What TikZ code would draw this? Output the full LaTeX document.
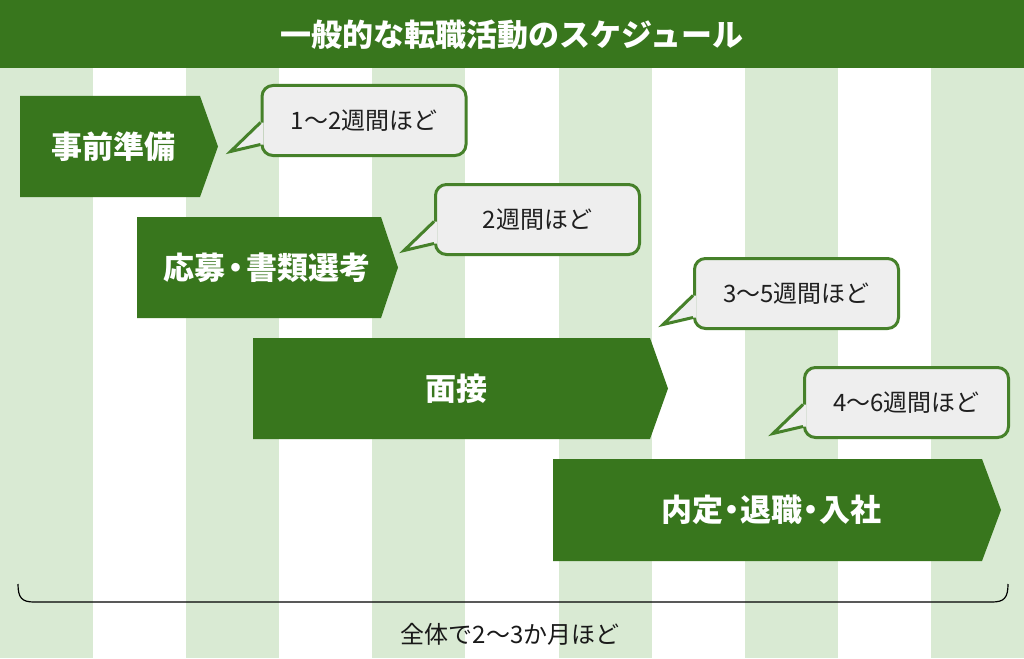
\documentclass[tikz,border=0pt]{standalone}
\usepackage{fontspec}
\setmainfont{Noto Sans CJK JP}
\usetikzlibrary{calc}
\definecolor{dkgreen}{HTML}{38761D}
\definecolor{ltgreen}{HTML}{D9EAD3}
\definecolor{cfill}{HTML}{EEEEEE}
\definecolor{cborder}{HTML}{46812A}
\tikzset{
  titletext/.style={text=white,font=\fontsize{31}{36}\selectfont\bfseries,inner sep=0pt},
  boxtext/.style={text=white,font=\fontsize{31}{36}\selectfont\bfseries,inner sep=0pt},
  arrowbox/.style={fill=dkgreen},
  callout/.style={draw=cborder,line width=3pt,fill=cfill,rounded corners=11pt,
    minimum width=204pt,minimum height=70pt,inner sep=0pt,
    text=black!88,font=\fontsize{24}{28}\selectfont},
  tailline/.style={draw=cborder,line width=3pt,line join=miter},
  totaltext/.style={text=black!90,font=\fontsize{24}{28}\selectfont,inner sep=0pt},
}
\newcommand\mytail[1]{%
  \coordinate (#1tip) at ($(#1.west)+(-30,31)$);
  \fill[cfill] ($(#1.west)+(3,2)$) -- ($(#1.west)+(-1,2)$) -- (#1tip) -- ($(#1.west)+(-1,24)$) -- ($(#1.west)+(3,24)$) -- cycle;
  \draw[tailline] ($(#1.west)+(0,2)$) -- (#1tip) -- ($(#1.west)+(0,24)$);
}
\newcommand\ndot{\hspace{-7pt}・\hspace{-7pt}}
\newcommand\mdot{\hspace{-5pt}・\hspace{-5pt}}
\begin{document}
\begin{tikzpicture}[x=1pt,y=-1pt]
\useasboundingbox (0,0) rectangle (1024,658);
\fill[white] (0,0) rectangle (1024,658);
\foreach \i in {0,2,...,10}
  \fill[ltgreen] ({\i*1024/11},68) rectangle ({(\i+1)*1024/11},658);
\fill[dkgreen] (0,0) rectangle (1024,68);
\node[titletext] (title) at (512,35) {一般的な転職活動のスケジュール};

% arrow boxes
\fill[arrowbox] (20,96) -- (200,96) -- (218,146.5) -- (200,197) -- (20,197) -- cycle;
\node[boxtext] (b1) at (113,147) {事前準備};
\fill[arrowbox] (137,217) -- (381,217) -- (398,267.5) -- (381,318) -- (137,318) -- cycle;
\node[boxtext] (b2) at (267,268) {応募\mdot 書類選考};
\fill[arrowbox] (253,338) -- (650,338) -- (668,388.5) -- (650,439) -- (253,439) -- cycle;
\node[boxtext] (b3) at (456,389) {面接};
\fill[arrowbox] (553,459) -- (982,459) -- (1001,510) -- (982,561) -- (553,561) -- cycle;
\node[boxtext] (b4) at (771,510) {内定\ndot 退職\ndot 入社};

% callouts
\node[callout] (c1) at (364,120.5) {1〜2週間ほど};
\mytail{c1}
\node[callout] (c2) at (537.5,219.5) {2週間ほど};
\mytail{c2}
\node[callout] (c3) at (796.5,293.5) {3〜5週間ほど};
\mytail{c3}
\node[callout] (c4) at (906.5,402.5) {4〜6週間ほど};
\mytail{c4}

% bottom bracket
\coordinate (brL) at (18,584);
\coordinate (brR) at (1008,584);
\draw[line width=1.2pt] (brL) .. controls (18,598) and (22,602) .. (34,602) -- (992,602) .. controls (1004,602) and (1008,598) .. (brR);
\node[totaltext] (total) at (510,634) {全体で2〜3か月ほど};
\end{tikzpicture}
\end{document}
